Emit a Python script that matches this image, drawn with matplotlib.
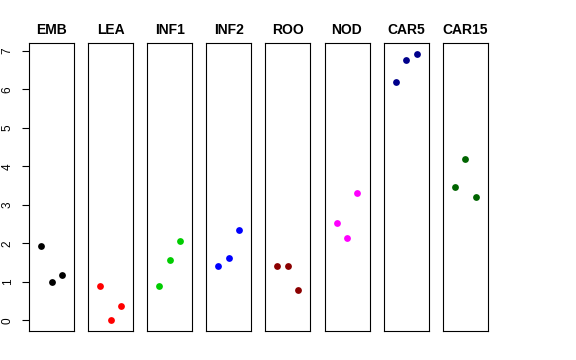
import matplotlib
matplotlib.use("Agg")
import matplotlib.pyplot as plt

plt.rcParams['font.family'] = ['Liberation Sans', 'DejaVu Sans']

tissues = ["EMB", "LEA", "INF1", "INF2", "ROO", "NOD", "CAR5", "CAR15"]
colors = ["black", "red", "#00CD00", "blue", "#8B0000", "magenta", "#00008B", "#006400"]
emb = [1.92, 1.00, 1.18]
lea = [0.88, 0.00, 0.37]
inf1 = [0.90, 1.57, 2.06]
inf2 = [1.42, 1.63, 2.35]
roo = [1.41, 1.41, 0.78]
nod = [2.54, 2.15, 3.30]
car5 = [6.19, 6.75, 6.92]
car15 = [3.46, 4.19, 3.20]
series = [emb, lea, inf1, inf2, roo, nod, car5, car15]
reps = [1, 2, 3]
yticks = [0, 1, 2, 3, 4, 5, 6, 7]

W, H = 576, 360
fig = plt.figure(figsize=(W / 100, H / 100), dpi=100)

ymin, ymax = 0.0, 6.92
yr = ymax - ymin
ylim = (ymin - 0.04 * yr, ymax + 0.04 * yr)
xlim = (0 - 0.16, 4 + 0.16)

for i, (name, vals, col) in enumerate(zip(tissues, series, colors)):
    left = 29 + 59.1 * i
    ax = fig.add_axes([left / W, (H - 331) / H, 45 / W, (331 - 43.3) / H])
    ax.scatter(reps, vals, s=24, color=col, zorder=3, linewidths=0)
    ax.set_xlim(*xlim)
    ax.set_ylim(*ylim)
    ax.set_xticks([])
    ax.set_title(name, fontsize=10, fontweight='bold', pad=6.5)
    for sp in ax.spines.values():
        sp.set_linewidth(0.8)
        sp.set_color('black')
    if i == 0:
        ax.set_yticks(yticks)
        ax.set_yticklabels([str(t) for t in yticks], rotation=90, va='center', fontsize=8.5)
        ax.tick_params(axis='y', length=5, width=0.8, pad=6)
    else:
        ax.set_yticks([])

fig.savefig("out.png", dpi=100)
